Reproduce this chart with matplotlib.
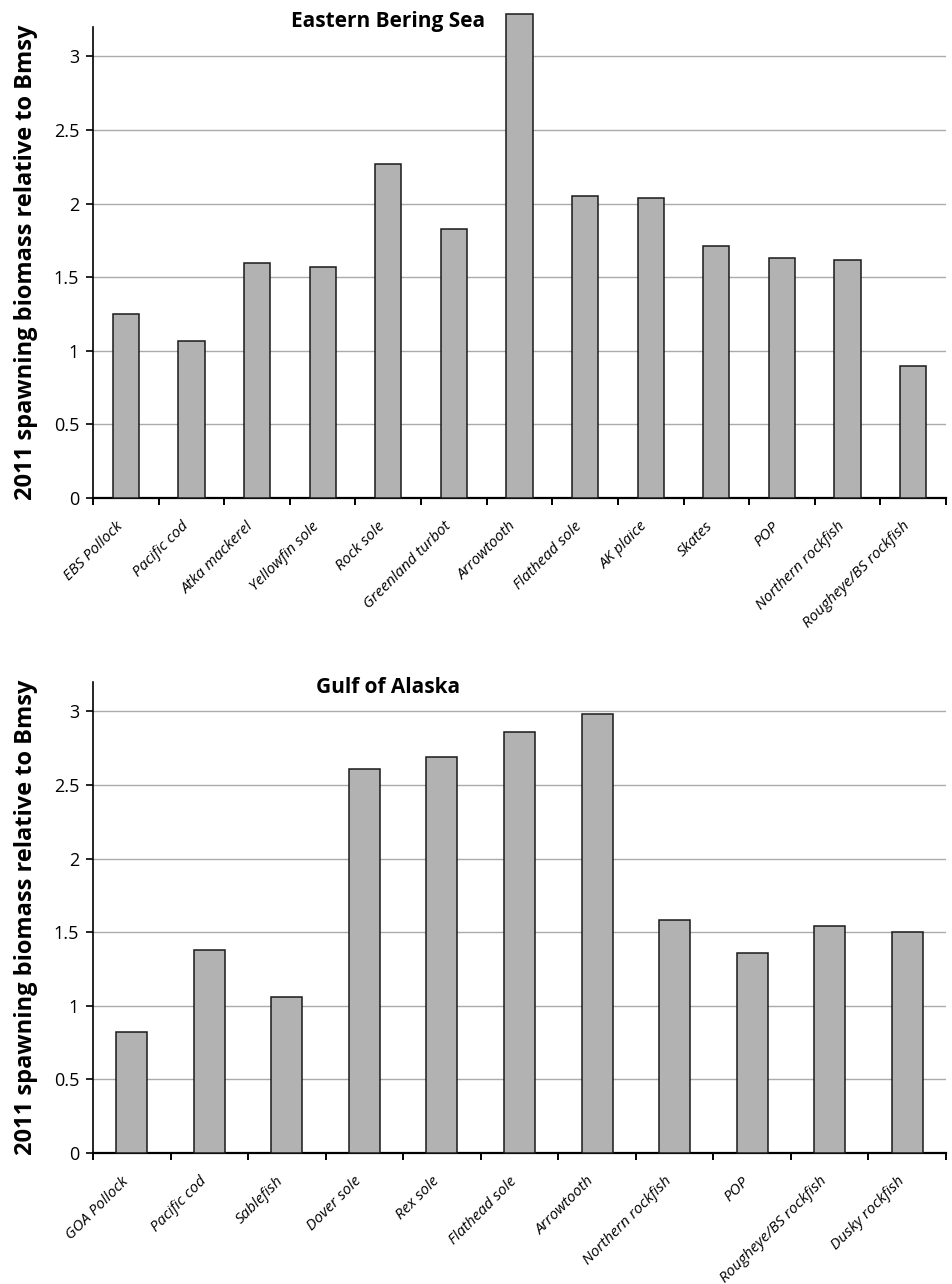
import matplotlib
matplotlib.use("Agg")
import matplotlib.pyplot as plt
import numpy as np

plt.rcParams['font.family'] = ['Open Sans', 'DejaVu Sans']

# Eastern Bering Sea stocks
ebs_species = ["EBS Pollock", "Pacific cod", "Atka mackerel", "Yellowfin sole",
               "Rock sole", "Greenland turbot", "Arrowtooth", "Flathead sole",
               "AK plaice", "Skates", "POP", "Northern rockfish",
               "Rougheye/BS rockfish"]
ebs_ratio = [1.25, 1.07, 1.60, 1.57, 2.27, 1.83, 3.29, 2.05, 2.04, 1.71,
             1.63, 1.62, 0.90]

# Gulf of Alaska stocks
goa_species = ["GOA Pollock", "Pacific cod", "Sablefish", "Dover sole",
               "Rex sole", "Flathead sole", "Arrowtooth", "Northern rockfish",
               "POP", "Rougheye/BS rockfish", "Dusky rockfish"]
goa_ratio = [0.82, 1.38, 1.06, 2.61, 2.69, 2.86, 2.98, 1.58, 1.36, 1.54, 1.50]

y_ticks = [0, 0.5, 1, 1.5, 2, 2.5, 3]
y_label = "2011 spawning biomass relative to Bmsy"

W, H = 953, 1284
fig = plt.figure(figsize=(W / 100, H / 100), dpi=100)


def px_axes(left, right, top, bottom):
    return fig.add_axes([left / W, 1 - bottom / H, (right - left) / W, (bottom - top) / H])


def draw_panel(ax, names, values, title, title_x, title_y):
    n = len(names)
    x = np.arange(n)
    bars = ax.bar(x, values, width=0.4, color="#b2b2b2", edgecolor="#1a1a1a",
                  linewidth=1.1, zorder=3)
    for b in bars:
        b.set_clip_on(False)
    ax.set_xlim(-0.5, n - 0.5)
    ax.set_ylim(0, 3.2)
    ax.set_yticks(y_ticks)
    ax.set_yticklabels(["{:g}".format(t) for t in y_ticks], fontsize=13)
    ax.yaxis.grid(True, color="#ababab", linewidth=1.0, zorder=0)
    ax.set_axisbelow(True)

    # ticks sit between categories, labels at bar centres
    ax.set_xticks(np.arange(n + 1) - 0.5)
    ax.set_xticklabels([])
    ax.set_xticks(x, minor=True)
    ax.set_xticklabels(names, minor=True, rotation=45, ha="right", va="top",
                       fontsize=11, style="italic")
    ax.tick_params(axis="x", which="major", length=5, width=1.4, direction="out")
    ax.tick_params(axis="x", which="minor", length=0, pad=15)
    ax.tick_params(axis="y", length=5, width=1.2, pad=5)

    for s in ("top", "right"):
        ax.spines[s].set_visible(False)
    ax.spines["left"].set_linewidth(1.2)
    ax.spines["bottom"].set_linewidth(1.6)

    ax.set_ylabel(y_label, fontsize=17, fontweight="bold")
    ax.yaxis.set_label_coords(-0.064, 0.5)

    fig.text(title_x / W, 1 - title_y / H, title, fontsize=15,
             fontweight="bold", ha="center", va="center")


ax1 = px_axes(93, 946, 27, 498)
draw_panel(ax1, ebs_species, ebs_ratio, "Eastern Bering Sea", 388, 22)

ax2 = px_axes(93, 946, 682, 1153)
draw_panel(ax2, goa_species, goa_ratio, "Gulf of Alaska", 388, 688)

fig.savefig("out.png", dpi=100)
